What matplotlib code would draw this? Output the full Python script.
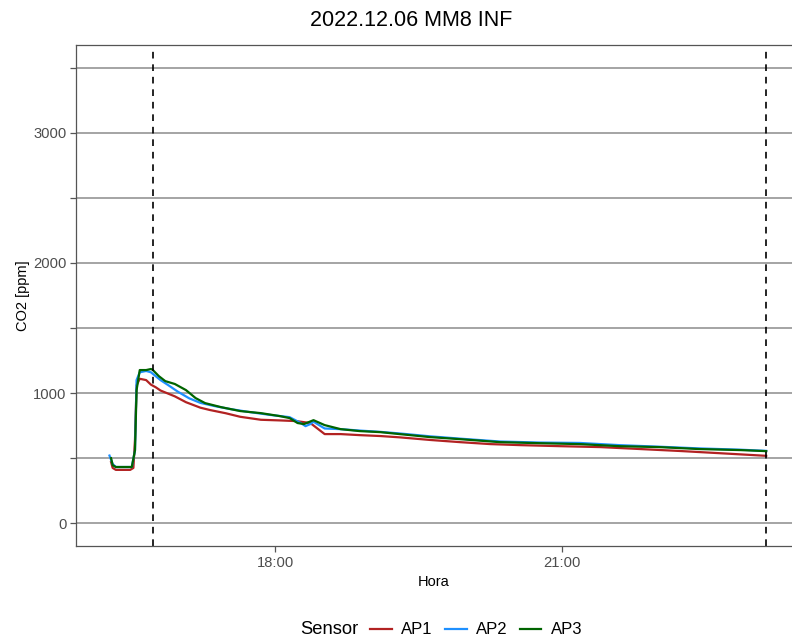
import matplotlib
matplotlib.use("Agg")
import matplotlib.pyplot as plt
from matplotlib.lines import Line2D

plt.rcParams['font.family'] = ['Liberation Sans', 'DejaVu Sans']

# --- donnees (heure, ppm) ---
ap1_t = ["16:17", "16:18", "16:20", "16:29", "16:31", "16:32", "16:33", "16:35", "16:39",
         "16:42", "16:45", "16:48", "16:51", "16:57", "17:04", "17:13", "17:19", "17:29",
         "17:38", "17:51", "18:03", "18:13", "18:22", "18:31", "18:41", "18:53", "19:06",
         "19:18", "19:37", "19:56", "20:15", "20:34", "20:59", "21:24", "21:49", "22:14",
         "22:39", "23:08"]
ap1_v = [470, 425, 410, 410, 425, 640, 1060, 1110, 1100, 1065, 1045, 1020, 1005, 975,
         930, 888, 870, 845, 818, 795, 790, 785, 770, 685, 685, 677, 670, 660, 640, 623,
         608, 600, 592, 585, 570, 555, 538, 518]

ap2_t = ["16:16", "16:18", "16:20", "16:30", "16:32", "16:33", "16:35", "16:39", "16:42",
         "16:45", "16:48", "16:53", "16:59", "17:06", "17:13", "17:22", "17:32", "17:44",
         "17:57", "18:09", "18:16", "18:19", "18:22", "18:24", "18:31", "18:41", "18:53",
         "19:06", "19:18", "19:37", "19:56", "20:21", "20:46", "21:11", "21:36", "22:01",
         "22:26", "22:52", "23:08"]
ap2_v = [520, 455, 432, 432, 560, 1100, 1160, 1170, 1160, 1130, 1100, 1060, 1010, 960,
         925, 900, 877, 854, 832, 815, 770, 746, 762, 780, 728, 723, 712, 702, 690, 668,
         650, 628, 620, 617, 600, 588, 575, 565, 556]

ap3_t = ["16:17", "16:18", "16:20", "16:30", "16:32", "16:33", "16:35", "16:39", "16:42",
         "16:43", "16:47", "16:51", "16:57", "17:04", "17:10", "17:16", "17:26", "17:38",
         "17:51", "18:03", "18:09", "18:14", "18:18", "18:24", "18:31", "18:41", "18:53",
         "19:06", "19:18", "19:37", "19:56", "20:21", "20:46", "21:11", "21:36", "22:01",
         "22:26", "22:52", "23:08"]
ap3_v = [500, 446, 432, 432, 560, 1023, 1177, 1177, 1185, 1180, 1130, 1092, 1070, 1023,
         962, 923, 892, 862, 846, 823, 808, 770, 762, 792, 754, 723, 708, 700, 685, 662,
         646, 623, 615, 608, 592, 585, 570, 562, 554]

sensores = ["AP1", "AP2", "AP3"]
couleurs = ["#B22222", "#1E90FF", "#006400"]
lignes_v = ["16:43", "23:08"]
x_ticks = ["18:00", "21:00"]


def heure(s):
    h, m = s.split(":")
    return int(h) + int(m) / 60


fig = plt.figure(figsize=(7.92, 6.39), dpi=100)
ax = fig.add_axes([76 / 792, 1 - 546 / 639, 1 - 76 / 792, (546 - 45) / 639])

ax.set_yticks([0, 1000, 2000, 3000])
ax.set_yticks([500, 1500, 2500, 3500], minor=True)
ax.grid(True, which='both', axis='y', color='#8c8c8c', lw=1.1)
ax.set_axisbelow(True)

for t, v, c in zip([ap1_t, ap2_t, ap3_t], [ap1_v, ap2_v, ap3_v], couleurs):
    ax.plot([heure(s) for s in t], v, color=c, lw=1.6)

for s in lignes_v:
    ax.axvline(heure(s), color='black', ls=(0, (4, 3.5)), lw=1.2)

ax.set_xticks([heure(s) for s in x_ticks])
ax.set_xticklabels(x_ticks)
ax.set_xlim(heure("15:55"), 23.403)
ax.set_ylim(-175, 3675)

for sp in ['left', 'bottom', 'top']:
    ax.spines[sp].set_color('#555555')
    ax.spines[sp].set_linewidth(0.9)
ax.spines['right'].set_visible(False)
ax.tick_params(which='both', length=4, width=0.9, color='#555555',
               labelsize=10.6, labelcolor='#4D4D4D', pad=3)

ax.set_xlabel("Hora", fontsize=10.5, labelpad=4)
ax.set_ylabel("CO2 [ppm]", fontsize=10.5, labelpad=2)

fig.text(411 / 792, 1 - 21 / 639, "2022.12.06 MM8 INF", fontsize=15.5,
         ha='center', va='center')

# legende en bas, titre a gauche
fig.text(300 / 792, 1 - 630 / 639, "Sensor", fontsize=13.2, ha='left', va='center')
handles = [Line2D([], [], color=c, lw=1.6) for c in couleurs]
fig.legend(handles, sensores, loc='center left', bbox_to_anchor=(370 / 792, 1 - 630 / 639),
           ncol=3, frameon=False, fontsize=12, handlelength=1.3, handletextpad=0.55,
           columnspacing=0.75, borderpad=0, borderaxespad=0)

fig.savefig("out.png", dpi=100)
